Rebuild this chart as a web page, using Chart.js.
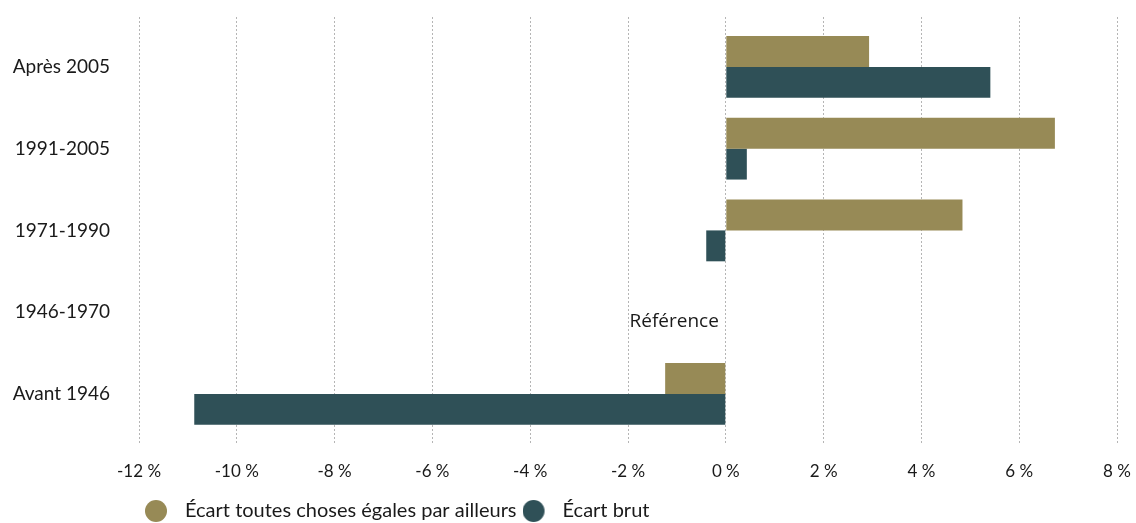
<!DOCTYPE html>
<html>
<head>
<meta charset="utf-8">
<script src="https://cdn.jsdelivr.net/npm/chart.js@4/dist/chart.umd.min.js"></script>
<style>
  html, body { margin: 0; padding: 0; background: #fff; }
  #wrap { width: 1136px; height: 523px; }
</style>
</head>
<body>
<div id="wrap"><canvas id="chart"></canvas></div>
<script>
const categories = ['Après 2005', '1991-2005', '1971-1990', '1946-1970', 'Avant 1946'];
const ceterisParibus = [2.93, 6.73, 4.84, null, -1.24];
const ecartBrut = [5.41, 0.43, -0.40, null, -10.87];
const xTicks = [-12, -10, -8, -6, -4, -2, 0, 2, 4, 6, 8];
const referenceLabel = 'Référence';
const referenceIndex = 3;

const GOLD = '#978a56';
const TEAL = '#2f5057';
const FONT = 'Lato, "DejaVu Sans", sans-serif';
const TEXT = '#1a1a1a';

// bars on a numeric index axis so the dotted grid can run past the first/last row
const toPoints = (values) =>
  values.map((v, i) => ({ x: v, y: i })).filter((p) => p.x !== null);

// legend dot, drawn a bit left of the image centre
function makeDot(color) {
  const c = document.createElement('canvas');
  c.width = 26;
  c.height = 22;
  const g = c.getContext('2d');
  g.fillStyle = color;
  g.beginPath();
  g.arc(11, 11, 11, 0, Math.PI * 2);
  g.fill();
  return c;
}
const dots = [makeDot(GOLD), makeDot(TEAL)];

const referencePlugin = {
  id: 'reference',
  afterDatasetsDraw(chart) {
    const { ctx, scales } = chart;
    const x = scales.x.getPixelForValue(0) - 7;
    const y = scales.y.getPixelForValue(referenceIndex) + 9;
    ctx.save();
    ctx.font = '19px "Open Sans", sans-serif';
    ctx.fillStyle = TEXT;
    ctx.textAlign = 'right';
    ctx.textBaseline = 'middle';
    ctx.fillText(referenceLabel, x, y);
    ctx.restore();
  },
};

new Chart(document.getElementById('chart'), {
  type: 'bar',
  data: {
    datasets: [
      {
        label: 'Écart toutes choses égales par ailleurs',
        data: toPoints(ceterisParibus),
        backgroundColor: GOLD,
        borderWidth: 0,
      },
      {
        label: 'Écart brut',
        data: toPoints(ecartBrut),
        backgroundColor: TEAL,
        borderWidth: 0,
      },
    ],
  },
  options: {
    indexAxis: 'y',
    responsive: true,
    maintainAspectRatio: false,
    animation: false,
    categoryPercentage: 0.756,
    barPercentage: 1,
    layout: { padding: { top: 17, right: 19, left: 0, bottom: -8 } },
    plugins: {
      tooltip: { enabled: false },
      legend: {
        position: 'bottom',
        align: 'start',
        fullSize: false,
        labels: {
          color: TEXT,
          font: { family: FONT, size: 20 },
          usePointStyle: true,
          pointStyleWidth: 34,
          boxHeight: 20,
          padding: 2,
          generateLabels: (chart) =>
            Chart.defaults.plugins.legend.labels
              .generateLabels(chart)
              .map((item, i) => ({ ...item, pointStyle: dots[i] })),
        },
      },
    },
    scales: {
      x: {
        type: 'linear',
        min: -12,
        max: 8,
        afterBuildTicks: (scale) => {
          scale.ticks = xTicks.map((v) => ({ value: v }));
        },
        afterFit: (scale) => {
          scale.height = 56;
          scale.paddingLeft = 0;
          scale.paddingRight = 0;
        },
        ticks: {
          color: TEXT,
          font: { family: FONT, size: 17 },
          padding: 18,
          callback: (v) => v + ' %',
        },
        grid: {
          color: '#b5b5b5',
          lineWidth: 1,
          drawTicks: false,
        },
        border: { display: false, dash: [2, 2] },
      },
      y: {
        type: 'linear',
        reverse: true,
        offset: false,
        grace: 0,
        min: -0.61,
        max: 4.6,
        afterBuildTicks: (scale) => {
          scale.ticks = categories.map((_, i) => ({ value: i }));
        },
        afterFit: (scale) => {
          scale.width = 139;
          scale.paddingTop = 0;
          scale.paddingBottom = 0;
        },
        ticks: {
          color: TEXT,
          font: { family: FONT, size: 19 },
          padding: 29,
          callback: (v) => categories[v] ?? '',
        },
        grid: { display: false, drawTicks: false },
        border: { display: false },
      },
    },
  },
  plugins: [referencePlugin],
});
</script>
</body>
</html>
